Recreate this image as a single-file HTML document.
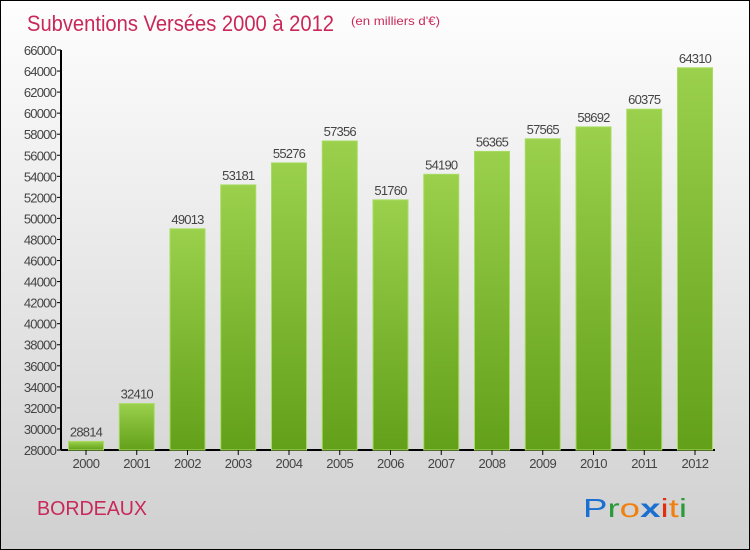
<!DOCTYPE html>
<html><head><meta charset="utf-8"><style>
body{margin:0}
#c{position:relative;width:748px;height:548px;border:1px solid #000;background:linear-gradient(#fefefe,#d0d0d0);font-family:"Liberation Sans",sans-serif;overflow:hidden}
</style></head><body>
<div id="c">
<svg id="s" width="748" height="548" style="position:absolute;left:0;top:0">
<defs><linearGradient id="g" x1="0" y1="0" x2="0" y2="1"><stop offset="0" stop-color="#9ad04c"/><stop offset="1" stop-color="#63a01a"/></linearGradient></defs>
<text x="26" y="30" font-size="22" fill="#c8285a" textLength="307" lengthAdjust="spacingAndGlyphs">Subventions Versées 2000 à 2012</text>
<text x="350" y="24" font-size="12" fill="#c8285a" textLength="89" lengthAdjust="spacingAndGlyphs">(en milliers d'€)</text>
<text x="36" y="514" font-size="20" fill="#c8285a" textLength="110" lengthAdjust="spacingAndGlyphs">BORDEAUX</text>
<text x="582" y="516" font-size="26" textLength="104" lengthAdjust="spacingAndGlyphs"><tspan fill="#1a6fd0">P</tspan><tspan fill="#2a9a3a">r</tspan><tspan fill="#f08010">o</tspan><tspan fill="#1a6fd0" font-weight="bold">x</tspan><tspan fill="#e03010">i</tspan><tspan fill="#f08010">t</tspan><tspan fill="#2a9a3a">i</tspan></text>
<g id="plot"></g>
</svg></div>
<script>
const years=["2000","2001","2002","2003","2004","2005","2006","2007","2008","2009","2010","2011","2012"];
const values=[28814,32410,49013,53181,55276,57356,51760,54190,56365,57565,58692,60375,64310];
const yTicks=[28000,30000,32000,34000,36000,38000,40000,42000,44000,46000,48000,50000,52000,54000,56000,58000,60000,62000,64000,66000];
const ns="http://www.w3.org/2000/svg",p=document.getElementById('plot');
const Y=v=>449-(v-28000)/38000*400, X=i=>85+i*50.75;
function mk(t,a,txt){const e=document.createElementNS(ns,t);for(const k in a)e.setAttribute(k,a[k]);if(txt!=null)e.textContent=txt;p.appendChild(e);return e;}
let ax=mk('line',{x1:60,y1:49,x2:60,y2:449,stroke:'#000','stroke-width':2});


let bx=mk('line',{x1:60,y1:449,x2:714,y2:449,stroke:'#000','stroke-width':2});


yTicks.forEach(v=>{const y=Y(v);
mk('line',{x1:56,y1:y,x2:60,y2:y,stroke:'#000'});
const t=mk('text',{x:55,y:y+5,'text-anchor':'end','font-size':13,fill:'#444','letter-spacing':'-0.8'},v);

});
years.forEach((yr,i)=>{const x=X(i),y=Y(values[i]);
const r=mk('rect',{x:x-17.5,y:y,width:35,height:449-y,fill:'url(#g)',stroke:'#a8dc60','stroke-width':1});


mk('line',{x1:x,y1:449,x2:x,y2:454,stroke:'#000'});
const l=mk('text',{x:x,y:467,'text-anchor':'middle','font-size':13,fill:'#444','letter-spacing':'-0.5'},yr);


const v=mk('text',{x:x,y:y-5,'text-anchor':'middle','font-size':13,fill:'#444','letter-spacing':'-0.8'},values[i]);

});
</script>
</body></html>
